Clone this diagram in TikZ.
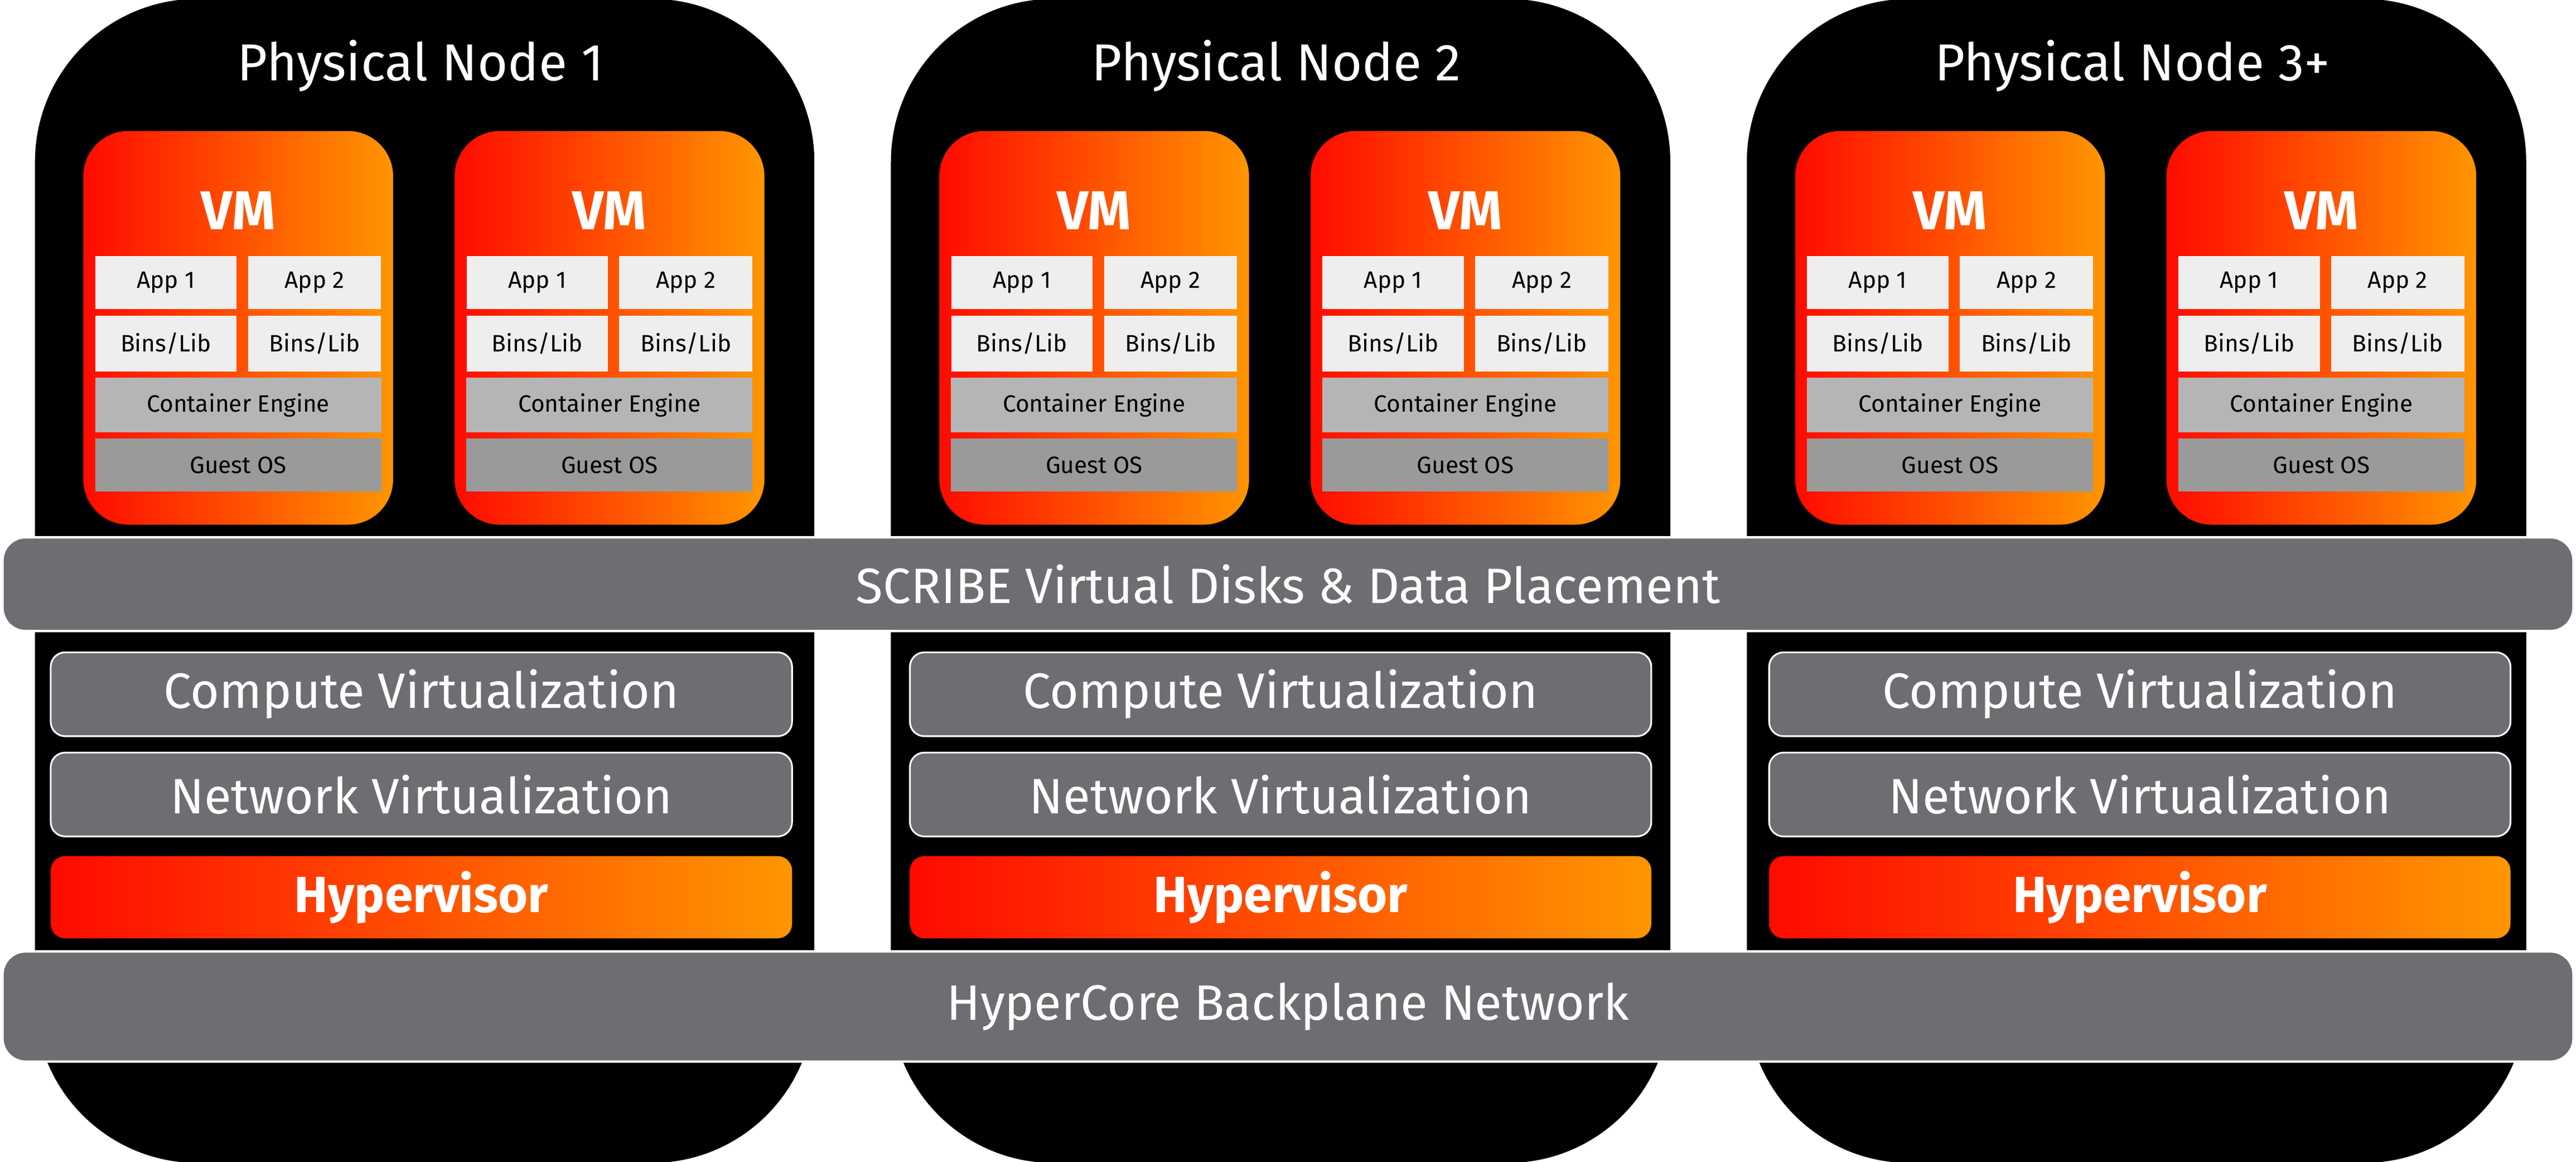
\documentclass[tikz,border=0pt]{standalone}
\usepackage{fontspec}
\setmainfont{Fira Sans}
\definecolor{barGray}{HTML}{6D6E71}
\definecolor{appGray}{HTML}{EEEEEE}
\definecolor{engGray}{HTML}{B5B5B5}
\definecolor{osGray}{HTML}{9A9A9A}
\definecolor{hotRed}{HTML}{FF0A00}
\definecolor{hotOrange}{HTML}{FF9600}
\tikzset{
  physbox/.style={fill=black, rounded corners=28pt, inner sep=0pt},
  vmbox/.style={left color=hotRed, right color=hotOrange, rounded corners=8pt, inner sep=0pt},
  appbox/.style={fill=appGray, inner sep=0pt, font=\fontsize{4.1}{5}\selectfont},
  engbox/.style={fill=engGray, inner sep=0pt, font=\fontsize{4.1}{5}\selectfont},
  osbox/.style={fill=osGray, inner sep=0pt, font=\fontsize{4.1}{5}\selectfont},
  bar/.style={fill=barGray, draw=white, line width=0.4pt, rounded corners=4pt, inner sep=0pt, text=white, font=\fontsize{8.6}{10}\selectfont},
  layer/.style={fill=barGray, draw=white, line width=0.3pt, rounded corners=2.5pt, inner sep=0pt, text=white, font=\fontsize{8.6}{10}\selectfont},
  hyper/.style={left color=hotRed, right color=hotOrange, rounded corners=2.5pt, inner sep=0pt, text=white, font=\bfseries\fontsize{8.8}{10}\selectfont},
}
\begin{document}
\begin{tikzpicture}[x=0.01cm, y=-0.01cm]
    \useasboundingbox (0,0) rectangle (1568,707);

    % Physical nodes
    \foreach \i/\dx/\lx/\lbl in {1/0/0/Physical Node 1, 2/521/523/Physical Node 2, 3/1042/1046/Physical Node 3+} {
        \draw[physbox] (22+\dx,0) rectangle (495+\dx,707);
        \node[text=white, font=\fontsize{9}{11}\selectfont] (pn\i) at (256+\dx,40) {\lbl};

        % Virtual machines
        \foreach \j/\vx in {1/0, 2/226} {
            \draw[vmbox] (50+\dx+\vx,79) rectangle (240+\dx+\vx,320);
            \node[text=white, font=\bfseries\fontsize{9.5}{11}\selectfont] (vm\i\j) at (145+\dx+\vx,128) {VM};
            \node[appbox, minimum width=0.86cm, minimum height=0.32cm] (appA\i\j) at (101+\dx+\vx,172) {App 1};
            \node[appbox, minimum width=0.81cm, minimum height=0.32cm] (appB\i\j) at (191.5+\dx+\vx,172) {App 2};
            \node[appbox, minimum width=0.86cm, minimum height=0.34cm] (libA\i\j) at (101+\dx+\vx,209) {Bins/Lib};
            \node[appbox, minimum width=0.81cm, minimum height=0.34cm] (libB\i\j) at (191.5+\dx+\vx,209) {Bins/Lib};
            \node[engbox, minimum width=1.74cm, minimum height=0.33cm] (eng\i\j) at (145+\dx+\vx,246.5) {Container Engine};
            \node[osbox, minimum width=1.74cm, minimum height=0.32cm] (os\i\j) at (145+\dx+\vx,283) {Guest OS};
        }

        % Node layers
        \node[layer, minimum width=4.51cm, minimum height=0.51cm] (cv\i) at (256.5+\lx,422.5) {Compute Virtualization};
        \node[layer, minimum width=4.51cm, minimum height=0.51cm] (nv\i) at (256.5+\lx,483.5) {Network Virtualization};
        \node[hyper, minimum width=4.51cm, minimum height=0.50cm] (hv\i) at (256.5+\lx,546) {Hypervisor};
    }

    % Shared bars
    \node[bar, minimum width=15.64cm, minimum height=0.57cm] (scribe) at (784,355.5) {SCRIBE Virtual Disks \& Data Placement};
    \node[bar, minimum width=15.64cm, minimum height=0.67cm] (backplane) at (784,612.5) {HyperCore Backplane Network};

\end{tikzpicture}
\end{document}
